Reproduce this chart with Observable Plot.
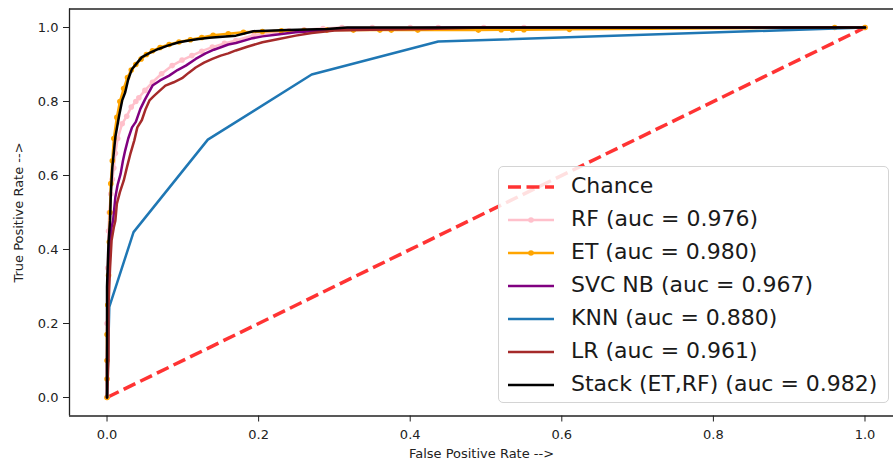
<!DOCTYPE html>
<html>
<head>
<meta charset="utf-8">
<script src="https://cdn.jsdelivr.net/npm/d3@7"></script>
<script src="https://cdn.jsdelivr.net/npm/@observablehq/plot@0.6"></script>
<style>
  html, body { margin: 0; padding: 0; background: #fff; }
  #wrap { position: relative; width: 893px; height: 463px; overflow: hidden; font-family: "DejaVu Sans", sans-serif; }
  #legend { position: absolute; left: 498px; top: 166px; width: 391px; height: 237px; box-sizing: border-box;
            border: 1px solid #d4d4d4; border-radius: 5px; background: rgba(255,255,255,0.85); }
  .row { position: absolute; left: 0; height: 33px; width: 100%; }
  .row svg { position: absolute; left: 8px; top: 11px; }
  .row span { position: absolute; left: 72px; top: 2px; font-size: 22px; color: #1a1a1a; white-space: nowrap; line-height: 28px; }
</style>
</head>
<body>
<div id="wrap"><div id="legend"></div></div>
<script>
// ---- data ----
const xTicks = [0, 0.2, 0.4, 0.6, 0.8, 1.0];
const yTicks = [0, 0.2, 0.4, 0.6, 0.8, 1.0];

const chanceFpr = [0, 1];
const chanceTpr = [0, 1];

const rfFpr = [0, 0.0, 0.001, 0.002, 0.003, 0.005, 0.007, 0.009, 0.011, 0.014, 0.020, 0.026, 0.032, 0.038, 0.042, 0.050, 0.060, 0.072, 0.086, 0.099, 0.112, 0.125, 0.139, 0.155, 0.170, 0.194, 0.220, 0.240, 0.260, 0.285, 0.31, 0.35, 0.40, 0.437, 0.497, 0.55, 1.0];
const rfTpr = [0, 0.20, 0.35, 0.45, 0.50, 0.55, 0.59, 0.62, 0.66, 0.70, 0.74, 0.76, 0.785, 0.80, 0.81, 0.83, 0.852, 0.875, 0.897, 0.912, 0.924, 0.936, 0.947, 0.957, 0.965, 0.979, 0.987, 0.991, 0.994, 0.997, 1.0, 1.0, 1.0, 1.0, 1.0, 1.0, 1.0];

const etFpr = [0, 0.0, 0.0, 0.0, 0.001, 0.002, 0.003, 0.004, 0.005, 0.007, 0.009, 0.013, 0.017, 0.022, 0.027, 0.032, 0.038, 0.045, 0.052, 0.060, 0.070, 0.082, 0.095, 0.110, 0.125, 0.140, 0.160, 0.180, 0.205, 0.230, 0.260, 0.290, 0.325, 0.36, 0.375, 0.41, 0.49, 0.52, 0.535, 0.55, 0.61, 0.96, 1.0];
const etTpr = [0, 0.05, 0.10, 0.17, 0.25, 0.33, 0.42, 0.50, 0.578, 0.64, 0.70, 0.757, 0.80, 0.835, 0.865, 0.885, 0.90, 0.915, 0.927, 0.937, 0.946, 0.954, 0.961, 0.967, 0.973, 0.979, 0.983, 0.987, 0.989, 0.991, 0.992, 0.993, 0.993, 0.993, 0.993, 0.993, 0.993, 0.994, 0.994, 0.994, 0.995, 1.0, 1.0];

const svcFpr = [0, 0.0, 0.001, 0.002, 0.004, 0.006, 0.008, 0.011, 0.014, 0.018, 0.021, 0.024, 0.028, 0.033, 0.038, 0.044, 0.050, 0.060, 0.070, 0.082, 0.093, 0.104, 0.117, 0.130, 0.141, 0.152, 0.160, 0.170, 0.190, 0.205, 0.225, 0.249, 0.270, 0.300, 0.340, 0.400, 0.460, 1.0];
const svcTpr = [0, 0.10, 0.25, 0.36, 0.42, 0.46, 0.478, 0.541, 0.575, 0.605, 0.64, 0.668, 0.70, 0.73, 0.745, 0.78, 0.805, 0.843, 0.857, 0.87, 0.885, 0.897, 0.915, 0.93, 0.94, 0.948, 0.954, 0.958, 0.97, 0.976, 0.981, 0.987, 0.99, 0.994, 0.996, 0.998, 1.0, 1.0];

const knnFpr = [0, 0.003, 0.035, 0.133, 0.270, 0.437, 1.0];
const knnTpr = [0, 0.245, 0.447, 0.697, 0.873, 0.962, 1.0];

const lrFpr = [0, 0.001, 0.002, 0.002, 0.004, 0.006, 0.009, 0.011, 0.013, 0.017, 0.022, 0.026, 0.031, 0.036, 0.040, 0.046, 0.051, 0.056, 0.062, 0.070, 0.077, 0.088, 0.099, 0.108, 0.117, 0.128, 0.139, 0.150, 0.160, 0.170, 0.185, 0.205, 0.225, 0.249, 0.270, 0.300, 0.348, 0.420, 0.500, 1.0];
const lrTpr = [0, 0.05, 0.108, 0.25, 0.35, 0.424, 0.46, 0.478, 0.524, 0.555, 0.586, 0.62, 0.66, 0.695, 0.73, 0.75, 0.78, 0.803, 0.815, 0.83, 0.843, 0.852, 0.863, 0.878, 0.892, 0.905, 0.915, 0.924, 0.93, 0.938, 0.948, 0.96, 0.968, 0.978, 0.985, 0.992, 0.994, 0.996, 1.0, 1.0];

const stackFpr = [0, 0, 0.002, 0.004, 0.005, 0.007, 0.011, 0.016, 0.020, 0.024, 0.028, 0.033, 0.040, 0.046, 0.057, 0.068, 0.080, 0.095, 0.108, 0.121, 0.135, 0.148, 0.170, 0.193, 0.238, 0.290, 0.317, 1.0];
const stackTpr = [0, 0.30, 0.42, 0.478, 0.55, 0.622, 0.704, 0.762, 0.803, 0.825, 0.86, 0.888, 0.905, 0.92, 0.932, 0.942, 0.951, 0.96, 0.965, 0.969, 0.972, 0.974, 0.978, 0.99, 0.993, 0.996, 1.0, 1.0];

const seriesNames = ["RF", "ET", "SVC NB", "KNN", "LR", "Stack (ET,RF)"];
const seriesAuc = ["0.976", "0.980", "0.967", "0.880", "0.961", "0.982"];
const seriesColors = ["pink", "orange", "purple", "#1f77b4", "brown", "black"];
const seriesMarkers = [true, true, false, false, false, false];
const seriesFpr = [rfFpr, etFpr, svcFpr, knnFpr, lrFpr, stackFpr];
const seriesTpr = [rfTpr, etTpr, svcTpr, knnTpr, lrTpr, stackTpr];

// ---- chart ----
const xDomain = [-0.0495, 1.0376];
const yDomain = [-0.05, 1.05];
const toRows = (fx, fy) => fx.map((x, i) => ({x, y: fy[i]}));

const marks = [];
marks.push(Plot.line(toRows(chanceFpr, chanceTpr), {x: "x", y: "y", stroke: "red", strokeOpacity: 0.8, strokeWidth: 3.5, strokeDasharray: "13,5.5", strokeLinecap: "butt"}));
seriesNames.forEach((name, i) => {
  const rows = toRows(seriesFpr[i], seriesTpr[i]);
  marks.push(Plot.line(rows, {x: "x", y: "y", stroke: seriesColors[i], strokeWidth: 2.5}));
  if (seriesMarkers[i]) marks.push(Plot.dot(rows, {x: "x", y: "y", r: 2.8, fill: seriesColors[i], stroke: "none"}));
});
marks.push(Plot.ruleX([xDomain[0]], {stroke: "#222", strokeWidth: 1.3}));
marks.push(Plot.ruleY([yDomain[0], yDomain[1]], {stroke: "#222", strokeWidth: 1.3}));
marks.push(Plot.axisX({ticks: xTicks, tickFormat: d3.format(".1f"), tickSize: 6, tickPadding: 8,
  label: "False Positive Rate -->", labelAnchor: "center", labelOffset: 42, labelArrow: "none", fill: "#222"}));
marks.push(Plot.axisY({ticks: yTicks, tickFormat: d3.format(".1f"), tickSize: 6, tickPadding: 5,
  label: "True Positive Rate -->", labelAnchor: "center", labelOffset: 56, labelArrow: "none", fill: "#222"}));

const chart = Plot.plot({
  width: 893, height: 463,
  marginLeft: 69, marginRight: 0, marginTop: 8.5, marginBottom: 47.5,
  style: {fontFamily: "DejaVu Sans, sans-serif", fontSize: "13px", color: "#222", background: "white", overflow: "visible"},
  x: {domain: xDomain},
  y: {domain: yDomain},
  marks
});
const wrap = document.getElementById("wrap");
wrap.insertBefore(chart, wrap.firstChild);

// ---- legend ----
const legend = document.getElementById("legend");
const legendNames = ["Chance"].concat(seriesNames.map((n, i) => `${n} (auc = ${seriesAuc[i]})`));
const legendColors = ["red"].concat(seriesColors);
const legendMarkers = [false].concat(seriesMarkers);
legendNames.forEach((label, i) => {
  const row = document.createElement("div");
  row.className = "row";
  row.style.top = (3 + i * 33) + "px";
  const dashed = i === 0;
  row.innerHTML = `<svg width="48" height="12">
      <line x1="1" x2="47" y1="6" y2="6" stroke="${legendColors[i]}" stroke-opacity="${dashed ? 0.8 : 1}"
        stroke-width="${dashed ? 3.5 : 2.5}" ${dashed ? 'stroke-dasharray="13,5.5"' : ''}/>
      ${legendMarkers[i] ? `<circle cx="24" cy="6" r="2.8" fill="${legendColors[i]}"/>` : ''}
    </svg><span>${label}</span>`;
  legend.appendChild(row);
});
</script>
</body>
</html>
